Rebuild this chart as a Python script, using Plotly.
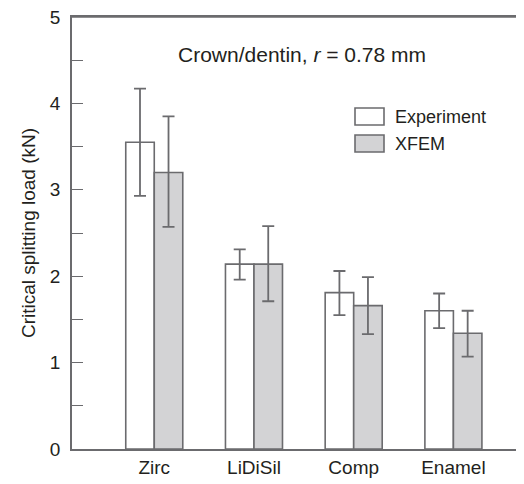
import plotly.graph_objects as go

categories = ["Zirc", "LiDiSil", "Comp", "Enamel"]
exp_vals = [3.55, 2.14, 1.81, 1.60]
exp_err_plus = [0.62, 0.17, 0.25, 0.20]
exp_err_minus = [0.62, 0.18, 0.26, 0.20]
xfem_vals = [3.20, 2.14, 1.66, 1.34]
xfem_err_plus = [0.65, 0.44, 0.33, 0.26]
xfem_err_minus = [0.63, 0.43, 0.33, 0.27]
y_ticks = [0, 1, 2, 3, 4, 5]
series_names = ["Experiment", "XFEM"]
series_fills = ["white", "#d3d3d5"]

line_col = "#6b6b6e"
font_fam = "Liberation Sans, Arial, sans-serif"
txt_col = "#231f20"
xpos = list(range(len(categories)))

W, H = 516, 476
L, R, T, B = 64, 0, 9, 35
PW, PH = W - L - R, H - T - B


def px(x):
    return (x - L) / PW


def py(y):
    return 1 - (y - T) / PH


fig = go.Figure()
for name, fill, vals, ep, em in [
    (series_names[0], series_fills[0], exp_vals, exp_err_plus, exp_err_minus),
    (series_names[1], series_fills[1], xfem_vals, xfem_err_plus, xfem_err_minus),
]:
    fig.add_trace(go.Bar(
        x=xpos, y=vals, name=name,
        marker=dict(color=fill, line=dict(color=line_col, width=1.6)),
        error_y=dict(type="data", symmetric=False, array=ep, arrayminus=em,
                     color=line_col, thickness=1.8, width=6),
    ))

shapes = [dict(type="line", xref="paper", yref="paper", x0=0, x1=1, y0=1, y1=1,
               line=dict(color=line_col, width=1.6))]
annotations = [dict(
    text="Crown/dentin, <i>r</i> = 0.78 mm", x=px(294), y=py(46), xref="paper", yref="paper",
    showarrow=False, font=dict(size=21, color=txt_col), xanchor="center", yanchor="middle",
)]
# manual legend
leg_rows = [(100, 117), (127, 144)]
for (y0, y1), name, fill in zip(leg_rows, series_names, series_fills):
    shapes.append(dict(type="rect", xref="paper", yref="paper",
                       x0=px(347), x1=px(376), y0=py(y1), y1=py(y0),
                       line=dict(color=line_col, width=1.6), fillcolor=fill))
    annotations.append(dict(text=name, x=px(385), y=py((y0 + y1) / 2), xref="paper", yref="paper",
                            showarrow=False, xanchor="left", yanchor="middle",
                            font=dict(size=18, color=txt_col)))

fig.update_layout(
    width=W, height=H,
    margin=dict(l=L, r=R, t=T, b=B),
    paper_bgcolor="white", plot_bgcolor="white",
    barmode="group", bargap=0.428, bargroupgap=0,
    font=dict(family=font_fam, size=19, color=txt_col),
    showlegend=False,
    shapes=shapes,
    annotations=annotations,
)

fig.update_xaxes(
    range=[-0.825, 3.708], tickvals=xpos, ticktext=categories,
    showline=True, linecolor=line_col, linewidth=1.6, mirror=True,
    ticks="", showgrid=False, zeroline=False,
    tickfont=dict(size=19, color=txt_col),
)
fig.update_yaxes(
    range=[0, 5], tickvals=y_ticks,
    showline=True, linecolor=line_col, linewidth=1.6, mirror=False,
    ticks="inside", ticklen=11, tickcolor=line_col, tickwidth=1.4,
    minor=dict(dtick=0.5, ticks="inside", ticklen=11, tickcolor=line_col, tickwidth=1.4),
    showgrid=False, zeroline=False, ticklabelstandoff=6, ticklabeloverflow="allow",
    tickfont=dict(size=19, color=txt_col),
    title=dict(text="Critical splitting load (kN)", font=dict(size=19, color=txt_col), standoff=9),
)

fig.write_html("out.html")
